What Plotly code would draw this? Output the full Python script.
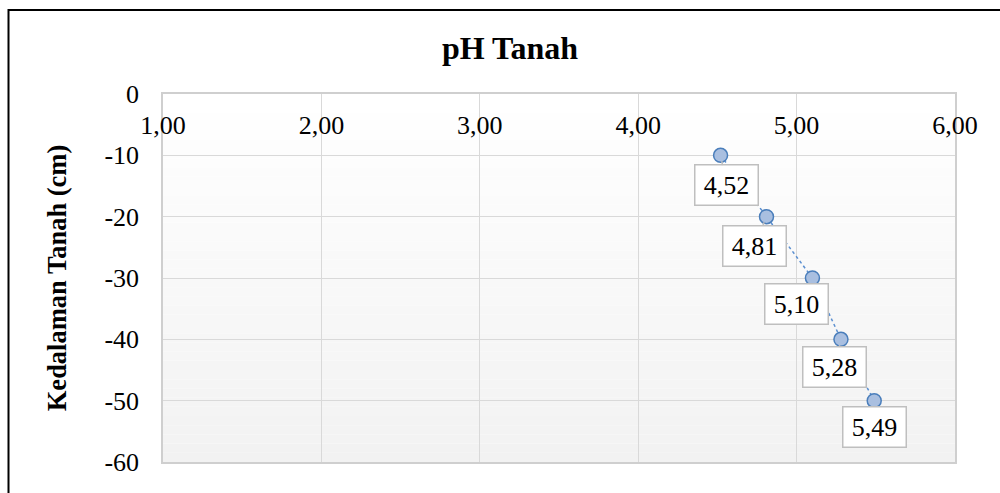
import plotly.graph_objects as go

# Data
ph_values = [4.52, 4.81, 5.10, 5.28, 5.49]
depth_cm = [-10, -20, -30, -40, -50]
point_labels = ["4,52", "4,81", "5,10", "5,28", "5,49"]

x_tick_vals = [1, 2, 3, 4, 5, 6]
x_tick_text = ["1,00", "2,00", "3,00", "4,00", "5,00", "6,00"]
y_tick_vals = [0, -10, -20, -30, -40, -50, -60]
y_tick_text = ["0", "-10", "-20", "-30", "-40", "-50", "-60"]

title_text = "pH Tanah"
y_title_text = "Kedalaman Tanah (cm)"

# Label offsets (px) relative to each point, styling only
label_dx = [6, -12, -16, -6, 0]
label_dy = [30, 29, 26, 28, 26]

FONT = "Liberation Serif, Times New Roman, serif"

W, H = 1000, 493
ML, MR, MT, MB = 163, 45, 94, 31
PW, PH = W - ML - MR, H - MT - MB

fig = go.Figure()

fig.add_trace(go.Scatter(
    x=ph_values, y=depth_cm,
    mode="lines+markers",
    line=dict(color="#5b8fd0", width=1.5, dash="dot"),
    marker=dict(size=14, color="#a9bfe0", line=dict(color="#4a7ebb", width=1.5)),
    hoverinfo="x+y",
    showlegend=False,
))

# Gradient background bands for plot area
shapes = []
N = 40
for i in range(N):
    y0 = i / N
    y1 = (i + 1) / N
    t = (i + 0.5) / N  # 0 bottom, 1 top
    g = int(round(242 + (255 - 242) * t))
    shapes.append(dict(
        type="rect", xref="x domain", yref="y domain",
        x0=0, x1=1, y0=y0, y1=y1,
        fillcolor=f"rgb({g},{g},{g})", line=dict(width=0), layer="below",
    ))

# Outer black frame
shapes.append(dict(
    type="rect", xref="paper", yref="paper",
    x0=(8.5 - ML) / PW, x1=(1010 - ML) / PW,
    y0=-(510 - (MT + PH)) / PH, y1=1 + (MT - 10) / PH,
    line=dict(color="black", width=2), fillcolor="rgba(0,0,0,0)", layer="above",
))

annotations = []
for xv, yv, lab, dx, dy in zip(ph_values, depth_cm, point_labels, label_dx, label_dy):
    annotations.append(dict(
        x=xv, y=yv, xref="x", yref="y",
        text=lab, showarrow=True,
        ax=dx, ay=dy, axref="pixel", ayref="pixel",
        arrowhead=0, arrowcolor="#bfbfbf", arrowwidth=1.5, standoff=6,
        font=dict(family=FONT, size=26, color="black"),
        bgcolor="white", bordercolor="#bfbfbf", borderwidth=1.5, borderpad=3,
        width=56, height=33, align="center",
    ))

fig.update_layout(
    width=W, height=H,
    margin=dict(l=ML, r=MR, t=MT, b=MB),
    paper_bgcolor="white",
    plot_bgcolor="white",
    title=dict(
        text=f"<b>{title_text}</b>",
        font=dict(family=FONT, size=32, color="black"),
        x=0.51, xref="container", xanchor="center",
        y=1 - 48 / H, yref="container", yanchor="middle",
    ),
    xaxis=dict(
        range=[1, 6], side="top",
        tickvals=x_tick_vals, ticktext=x_tick_text,
        ticklabelposition="inside", ticklabeloverflow="allow",
        ticklabelstandoff=24,
        ticks="",
        showgrid=True, gridcolor="#d9d9d9", gridwidth=1,
        showline=True, linecolor="#cfcfcf", linewidth=1.5, mirror=True,
        zeroline=False,
        tickfont=dict(family=FONT, size=26, color="black"),
    ),
    yaxis=dict(
        range=[-60, 0],
        tickvals=y_tick_vals, ticktext=y_tick_text,
        ticks="", ticklabelstandoff=17,
        showgrid=True, gridcolor="#d9d9d9", gridwidth=1,
        showline=True, linecolor="#cfcfcf", linewidth=1.5, mirror=True,
        zeroline=False,
        tickfont=dict(family=FONT, size=26, color="black"),
        title=dict(text=f"<b>{y_title_text}</b>", standoff=30,
                   font=dict(family=FONT, size=26.5, color="black")),
        automargin=False,
    ),
    shapes=shapes,
    annotations=annotations,
)

fig.write_html(
    "out.html",
    config={"displayModeBar": False},
    post_script="document.body.style.margin='0';document.body.style.overflow='hidden';",
)
